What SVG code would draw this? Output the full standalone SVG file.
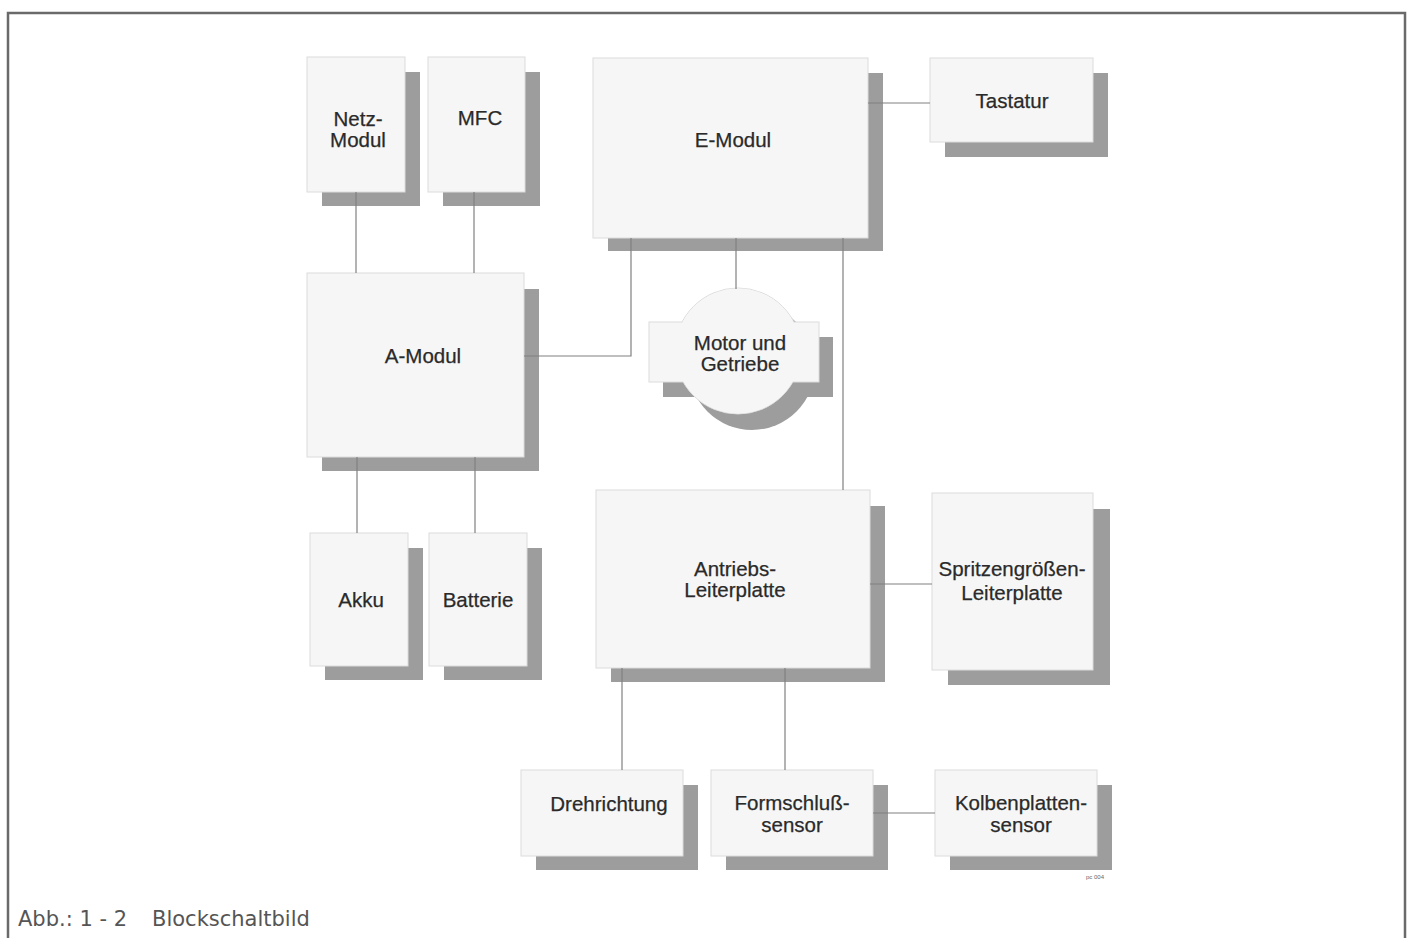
<svg xmlns="http://www.w3.org/2000/svg" width="1408" height="938" viewBox="0 0 1408 938">
<style>
.box{fill:#f6f6f6;stroke:#dcdcdc;stroke-width:1}
.sh{fill:#9d9d9d}
.ln{stroke:#808080;stroke-width:1.2;fill:none}
.t{font-family:"Liberation Sans",Arial,sans-serif;font-size:20.5px;fill:#2a2a2a;stroke:#2a2a2a;stroke-width:0.25;text-anchor:middle}
.frame{stroke:#6a6a6a;stroke-width:2.5;fill:none}
</style>
<rect x="0" y="0" width="1408" height="938" fill="#ffffff"/>
<path class="frame" d="M8,938 V13 H1405 V938"/>

<g id="netz-modul">
<rect class="sh" x="322" y="72" width="98" height="134"/>
<rect class="box" x="307" y="57" width="98" height="135"/>
<text class="t" x="358" y="126">Netz-</text>
<text class="t" x="358" y="147">Modul</text>
</g>

<g id="mfc">
<rect class="sh" x="443" y="72" width="97" height="134"/>
<rect class="box" x="428" y="57" width="97" height="135"/>
<text class="t" x="480" y="125">MFC</text>
</g>

<g id="e-modul">
<rect class="sh" x="608" y="73" width="275" height="178"/>
<rect class="box" x="593" y="58" width="275" height="180"/>
<text class="t" x="733" y="147">E-Modul</text>
</g>

<g id="tastatur">
<rect class="sh" x="945" y="73" width="163" height="84"/>
<rect class="box" x="930" y="58" width="163" height="84"/>
<text class="t" x="1012" y="108">Tastatur</text>
</g>

<g id="a-modul">
<rect class="sh" x="322" y="289" width="217" height="182"/>
<rect class="box" x="307" y="273" width="217" height="184"/>
<text class="t" x="423" y="363">A-Modul</text>
</g>

<g id="motor">
<rect class="sh" x="663" y="337" width="170" height="60"/>
<circle class="sh" cx="752" cy="367" r="63"/>
<circle class="box" cx="738" cy="351" r="63"/>
<rect x="649" y="322" width="170" height="60" fill="#f6f6f6" stroke="#dcdcdc"/>
<circle cx="738" cy="351" r="62.5" fill="#f6f6f6"/>
<text class="t" x="740" y="350">Motor und</text>
<text class="t" x="740" y="371">Getriebe</text>
</g>

<g id="akku">
<rect class="sh" x="325" y="548" width="98" height="132"/>
<rect class="box" x="310" y="533" width="98" height="133"/>
<text class="t" x="361" y="607">Akku</text>
</g>

<g id="batterie">
<rect class="sh" x="444" y="548" width="98" height="132"/>
<rect class="box" x="429" y="533" width="98" height="133"/>
<text class="t" x="478" y="607">Batterie</text>
</g>

<g id="antriebs-leiterplatte">
<rect class="sh" x="611" y="506" width="274" height="176"/>
<rect class="box" x="596" y="490" width="274" height="178"/>
<text class="t" x="735" y="576">Antriebs-</text>
<text class="t" x="735" y="597">Leiterplatte</text>
</g>

<g id="spritzengroessen-leiterplatte">
<rect class="sh" x="948" y="509" width="162" height="176"/>
<rect class="box" x="932" y="493" width="161" height="177"/>
<text class="t" x="1012" y="576">Spritzengrößen-</text>
<text class="t" x="1012" y="600">Leiterplatte</text>
</g>

<g id="drehrichtung">
<rect class="sh" x="536" y="785" width="162" height="85"/>
<rect class="box" x="521" y="770" width="162" height="86"/>
<text class="t" x="609" y="811">Drehrichtung</text>
</g>

<g id="formschluss-sensor">
<rect class="sh" x="726" y="785" width="162" height="85"/>
<rect class="box" x="711" y="770" width="162" height="86"/>
<text class="t" x="792" y="810">Formschluß-</text>
<text class="t" x="792" y="832">sensor</text>
</g>

<g id="kolbenplatten-sensor">
<rect class="sh" x="950" y="785" width="162" height="85"/>
<rect class="box" x="935" y="770" width="162" height="86"/>
<text class="t" x="1021" y="810">Kolbenplatten-</text>
<text class="t" x="1021" y="832">sensor</text>
</g>

<g id="connectors">
<line class="ln" x1="356" y1="192" x2="356" y2="273"/>
<line class="ln" x1="474" y1="192" x2="474" y2="273"/>
<polyline class="ln" points="524,356 631,356 631,238"/>
<line class="ln" x1="868" y1="103" x2="930" y2="103"/>
<line class="ln" x1="736" y1="238" x2="736" y2="289"/>
<line class="ln" x1="843" y1="238" x2="843" y2="490"/>
<line class="ln" x1="357" y1="457" x2="357" y2="533"/>
<line class="ln" x1="475" y1="457" x2="475" y2="533"/>
<line class="ln" x1="870" y1="584" x2="932" y2="584"/>
<line class="ln" x1="622" y1="668" x2="622" y2="770"/>
<line class="ln" x1="785" y1="668" x2="785" y2="770"/>
<line class="ln" x1="873" y1="813" x2="935" y2="813"/>
</g>

<text x="1095" y="879" font-family="Liberation Sans,Arial,sans-serif" font-size="6" fill="#666" text-anchor="middle">pc 004</text>

<g id="caption" font-family="DejaVu Sans,sans-serif" font-size="21" fill="#555">
<text x="18" y="926">Abb.: 1 - 2</text>
<text x="152" y="926">Blockschaltbild</text>
</g>
</svg>
